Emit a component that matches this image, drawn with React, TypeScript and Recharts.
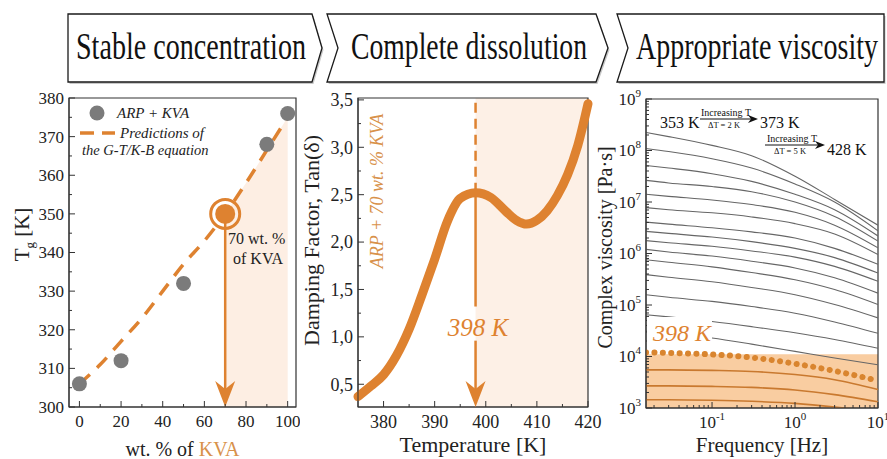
import React from "react";
import {
  ComposedChart,
  LineChart,
  Line,
  Area,
  Scatter,
  XAxis,
  YAxis,
  ReferenceArea,
  ReferenceLine,
  ReferenceDot,
  Label,
} from "recharts";

const ORANGE = "#de8230";
const ORANGE_TEXT = "#d8914a";
const INK = "#222";
const SERIF =
  "'Liberation Serif', Tinos, 'Times New Roman', 'Nimbus Roman', 'Nimbus Roman No9 L', FreeSerif, 'Noto Serif', 'DejaVu Serif', Georgia, serif";
const SERIF_STYLE = { fontFamily: SERIF };

// ---- panel 1: Tg vs KVA content
const kvaPct = [0, 20, 50, 90, 100];
const tgMeasured = [306, 312, 332, 368, 376];
const predPct = [0, 10, 20, 30, 40, 50, 60, 70, 80, 90, 100];
const tgPredicted = [306, 311, 317, 323, 330, 337, 343, 350, 358, 366.5, 375];
const chosenPct = 70;
const chosenTg = 350;
const pctTicks = [0, 10, 20, 30, 40, 50, 60, 70, 80, 90, 100];
const tgTicks = [300, 305, 310, 315, 320, 325, 330, 335, 340, 345, 350, 355, 360, 365, 370, 375, 380];

// ---- panel 2: damping factor vs temperature
const tempK = [375, 377.5, 380, 382.5, 385, 387.5, 390, 392.5, 395, 398, 401, 404, 406, 408, 410, 412, 414, 416, 418, 420];
const tanDelta = [0.37, 0.48, 0.6, 0.8, 1.08, 1.44, 1.82, 2.22, 2.46, 2.52, 2.47, 2.32, 2.23, 2.19, 2.23, 2.33, 2.49, 2.71, 3.02, 3.46];
const peakT = 398;
const peakTan = 2.52;
const tempTicks = [380, 385, 390, 395, 400, 405, 410, 415, 420];
const tanTicks = [0.5, 0.75, 1, 1.25, 1.5, 1.75, 2, 2.25, 2.5, 2.75, 3, 3.25, 3.5];

// ---- panel 3: complex viscosity vs frequency (log10 of Pa·s)
const freqHz = [0.016, 0.03, 0.1, 0.3, 1, 3, 10];
const grayTempsK = [353, 355, 357, 359, 361, 363, 365, 367, 369, 371, 373, 378, 383, 388, 393];
const grayLogEta = [
  [8.35, 8.27, 8.1, 7.9, 7.5, 7.05, 6.55],
  [8.04, 7.98, 7.84, 7.66, 7.35, 7.0, 6.44],
  [7.71, 7.66, 7.55, 7.4, 7.15, 6.85, 6.34],
  [7.42, 7.37, 7.3, 7.2, 7.0, 6.72, 6.24],
  [7.15, 7.11, 7.04, 6.95, 6.8, 6.55, 6.11],
  [6.89, 6.85, 6.79, 6.71, 6.58, 6.38, 5.98],
  [6.61, 6.57, 6.5, 6.42, 6.3, 6.1, 5.79],
  [6.43, 6.39, 6.32, 6.23, 6.1, 5.92, 5.62],
  [6.25, 6.21, 6.14, 6.05, 5.93, 5.75, 5.46],
  [6.08, 6.03, 5.95, 5.85, 5.72, 5.53, 5.23],
  [5.88, 5.83, 5.74, 5.63, 5.49, 5.3, 5.01],
  [5.59, 5.54, 5.45, 5.34, 5.2, 5.01, 4.75],
  [5.2, 5.15, 5.07, 4.97, 4.84, 4.67, 4.45],
  [4.81, 4.77, 4.68, 4.58, 4.46, 4.33, 4.16],
  [4.5, 4.46, 4.36, 4.24, 4.1, 3.97, 3.84],
];
const logEta398 = [4.08, 4.07, 4.04, 3.98, 3.86, 3.72, 3.53];
const orangeTempsK = [403, 408, 413];
const orangeLogEta = [
  [3.74, 3.74, 3.73, 3.71, 3.65, 3.55, 3.36],
  [3.43, 3.43, 3.42, 3.4, 3.35, 3.26, 3.12],
  [3.16, 3.16, 3.15, 3.13, 3.09, 3.02, 2.92],
];
const etaWindowTop = 11000;
const freqDecades = [0.01, 0.1, 1];
const etaDecades = [1e3, 1e4, 1e5, 1e6, 1e7, 1e8];

const banners = ["Stable concentration", "Complete dissolution", "Appropriate viscosity"];

// ---------- helpers
const logTicks = (decades: number[], lo: number, hi: number) => {
  const out: number[] = [];
  decades.forEach((d) => {
    for (let m = 1; m <= 9; m++) {
      const v = +(d * m).toPrecision(6);
      if (v >= lo && v <= hi) out.push(v);
    }
  });
  if (hi >= decades[decades.length - 1] * 10) out.push(decades[decades.length - 1] * 10);
  return out;
};
const isPow10 = (v: number) => Math.abs(Math.log10(v) - Math.round(Math.log10(v))) < 1e-6;
const isMult = (step: number) => (v: number) => Math.abs(v / step - Math.round(v / step)) < 1e-6;
const comma = (v: number) => v.toFixed(1).replace(".", ",");
const pow10 = (v: number) => (
  <>
    10<tspan dy={-8} fontSize={11}>{Math.round(Math.log10(v))}</tspan>
  </>
);

function makeTick(axis: "x" | "y", isMajor: (v: number) => boolean, fmt: (v: number) => React.ReactNode, fontSize: number) {
  return (props: any) => {
    const { x, y, payload } = props;
    const v = payload.value;
    const major = isMajor(v);
    const len = major ? 6 : 3;
    if (axis === "x") {
      return (
        <g>
          <line x1={x} y1={y} x2={x} y2={y - len} stroke="#333" strokeWidth={1} />
          {major && (
            <text x={x} y={y + fontSize + 3} textAnchor="middle" style={SERIF_STYLE} fontSize={fontSize} fill={INK}>
              {fmt(v)}
            </text>
          )}
        </g>
      );
    }
    return (
      <g>
        <line x1={x} y1={y} x2={x + len} y2={y} stroke="#333" strokeWidth={1} />
        {major && (
          <text x={x - 5} y={y} dy="0.35em" textAnchor="end" style={SERIF_STYLE} fontSize={fontSize} fill={INK}>
            {fmt(v)}
          </text>
        )}
      </g>
    );
  };
}

const xTitle = (content: React.ReactNode, dy: number, size: number) => (props: any) => {
  const vb = props.viewBox;
  return (
    <text x={vb.x + vb.width / 2} y={vb.y + dy} textAnchor="middle" style={SERIF_STYLE} fontSize={size} fill={INK}>
      {content}
    </text>
  );
};
const yTitle = (content: React.ReactNode, dx: number, size: number, dyc = 0) => (props: any) => {
  const vb = props.viewBox;
  const cx = vb.x + dx;
  const cy = vb.y + vb.height / 2 + dyc;
  return (
    <text x={cx} y={cy} transform={`rotate(-90 ${cx} ${cy})`} textAnchor="middle" dy="0.35em" style={SERIF_STYLE} fontSize={size} fill={INK}>
      {content}
    </text>
  );
};

const arrowHead = (p: any) => {
  const { cx, cy } = p;
  return <path d={`M${cx},${cy} L${cx - 10},${cy - 26} L${cx},${cy - 18} L${cx + 10},${cy - 26} Z`} fill={ORANGE} />;
};

// ---------- panel 1
const p1Rows = predPct.map((x, i) => ({ x, pred: tgPredicted[i], shade: x >= chosenPct ? tgPredicted[i] : null }));
const p1Points = kvaPct.map((x, i) => ({ x, y: tgMeasured[i] }));

function TgPanel() {
  return (
    <ComposedChart width={300} height={374} data={p1Rows} margin={{ top: 13, right: 4, bottom: 12, left: 19 }}>
      <XAxis type="number" dataKey="x" domain={[-5, 104]} ticks={pctTicks} interval={0} tickSize={0} tickMargin={0} tickLine={false}
        axisLine={{ stroke: "#333" }} height={40} tick={makeTick("x", isMult(20), (v) => v, 17)}>
        <Label content={xTitle(<>wt. % of <tspan fill={ORANGE_TEXT}>KVA</tspan></>, 49, 20)} />
      </XAxis>
      <YAxis type="number" domain={[300, 380]} ticks={tgTicks} interval={0} tickSize={0} tickMargin={0} tickLine={false}
        axisLine={{ stroke: "#333" }} width={50} tick={makeTick("y", isMult(10), (v) => v, 17)}>
        <Label content={yTitle(<>T<tspan dy={5} fontSize={13}>g</tspan><tspan dy={-5}> [K]</tspan></>, 3, 21, -18)} />
      </YAxis>
      <Area dataKey="shade" type="linear" stroke="none" fill="#fdeee3" fillOpacity={1} baseValue={300} isAnimationActive={false} />
      <ReferenceArea x1={-5} x2={104} y1={300} y2={380} fill="none" stroke="#333" strokeWidth={1.2} />
      <Line dataKey="pred" type="monotone" stroke={ORANGE} strokeWidth={3.5} strokeDasharray="14 10" dot={false} isAnimationActive={false} />
      <ReferenceLine segment={[{ x: chosenPct, y: chosenTg }, { x: chosenPct, y: 304 }]} stroke={ORANGE} strokeWidth={2.5} />
      <ReferenceDot x={chosenPct} y={300} ifOverflow="visible" shape={arrowHead} />
      <Scatter data={p1Points} dataKey="y" isAnimationActive={false}
        shape={(p: any) => <circle cx={p.cx} cy={p.cy} r={7.5} fill="#7b7b7b" />} />
      <Scatter data={[{ x: chosenPct, y: chosenTg }]} dataKey="y" isAnimationActive={false}
        shape={(p: any) => (
          <g>
            <circle cx={p.cx} cy={p.cy} r={14.5} fill="none" stroke={ORANGE} strokeWidth={3} />
            <circle cx={p.cx} cy={p.cy} r={10} fill={ORANGE} />
          </g>
        )} />
    </ComposedChart>
  );
}

// ---------- panel 2
const p2Rows = tempK.map((t, i) => ({ t, tan: tanDelta[i] }));

function TanPanel() {
  return (
    <LineChart width={315} height={374} data={p2Rows} margin={{ top: 13, right: 17, bottom: 12, left: 13 }}>
      <XAxis type="number" dataKey="t" domain={[375, 420]} ticks={tempTicks} interval={0} tickSize={0} tickMargin={0} tickLine={false}
        axisLine={{ stroke: "#333" }} height={40} tick={makeTick("x", isMult(10), (v) => v, 18)}>
        <Label content={xTitle("Temperature [K]", 45, 22)} />
      </XAxis>
      <YAxis type="number" domain={[0.26, 3.52]} allowDataOverflow ticks={tanTicks} interval={0} tickSize={0} tickMargin={0} tickLine={false}
        axisLine={{ stroke: "#333" }} width={55} tick={makeTick("y", isMult(0.5), comma, 18)}>
        <Label content={yTitle("Damping Factor, Tan(δ)", 8, 22, -12)} />
      </YAxis>
      <ReferenceArea x1={peakT} x2={420} y1={0.26} y2={3.52} fill="#fdf0e6" fillOpacity={1} stroke="none" />
      <ReferenceArea x1={375} x2={420} y1={0.26} y2={3.52} fill="none" stroke="#333" strokeWidth={1.2} />
      <ReferenceLine segment={[{ x: peakT, y: peakTan }, { x: peakT, y: 3.52 }]} stroke={ORANGE} strokeWidth={2.5} strokeDasharray="10 6" />
      <ReferenceLine segment={[{ x: peakT, y: peakTan }, { x: peakT, y: 1.32 }]} stroke={ORANGE} strokeWidth={2.5} />
      <ReferenceLine segment={[{ x: peakT, y: 0.96 }, { x: peakT, y: 0.4 }]} stroke={ORANGE} strokeWidth={2.5} />
      <ReferenceDot x={peakT} y={0.26} ifOverflow="visible" shape={arrowHead} />
      <Line dataKey="tan" type="monotone" stroke={ORANGE} strokeWidth={9} strokeLinecap="round" dot={false} isAnimationActive={false} />
    </LineChart>
  );
}

// ---------- panel 3
const p3Rows = freqHz.map((f, i) => {
  const row: Record<string, number> = { f, d398: Math.pow(10, logEta398[i]) };
  grayLogEta.forEach((c, k) => (row[`g${k}`] = Math.pow(10, c[i])));
  orangeLogEta.forEach((c, k) => (row[`o${k}`] = Math.pow(10, c[i])));
  return row;
});
const freqTicks = logTicks(freqDecades, 0.016, 10);
const etaTicks = logTicks(etaDecades, 1e3, 1e9);

function ViscosityPanel() {
  return (
    <LineChart width={302} height={374} data={p3Rows} margin={{ top: 14, right: 9, bottom: 11, left: 11 }}>
      <XAxis type="number" dataKey="f" scale="log" domain={[0.016, 10]} allowDataOverflow ticks={freqTicks} interval={0} tickSize={0}
        tickMargin={0} tickLine={false} axisLine={{ stroke: "#333" }} height={40} tick={makeTick("x", isPow10, pow10, 17)}>
        <Label content={xTitle("Frequency [Hz]", 44, 21)} />
      </XAxis>
      <YAxis type="number" scale="log" domain={[1e3, 1e9]} allowDataOverflow ticks={etaTicks} interval={0} tickSize={0} tickMargin={0}
        tickLine={false} axisLine={{ stroke: "#333" }} width={50} tick={makeTick("y", isPow10, pow10, 17)}>
        <Label content={yTitle("Complex viscosity [Pa·s]", 9, 20, -6)} />
      </YAxis>
      <ReferenceArea x1={0.016} x2={10} y1={1e3} y2={etaWindowTop} fill="#f9cda1" fillOpacity={1} stroke="none" />
      <ReferenceArea x1={0.016} x2={10} y1={1e3} y2={1e9} fill="none" stroke="#333" strokeWidth={1.2} />
      {grayTempsK.map((t, k) => (
        <Line key={t} dataKey={`g${k}`} name={`${t} K`} type="monotone" stroke="#666" strokeWidth={1.1} dot={false} isAnimationActive={false} />
      ))}
      {orangeTempsK.map((t, k) => (
        <Line key={t} dataKey={`o${k}`} name={`${t} K`} type="monotone" stroke="#c9792f" strokeWidth={1.6} dot={false} isAnimationActive={false} />
      ))}
      <Line dataKey="d398" name="398 K" type="monotone" stroke="#d9852f" strokeWidth={6} strokeLinecap="round" strokeDasharray="0.1 8.3"
        dot={false} isAnimationActive={false} />
    </LineChart>
  );
}

// ---------- overlay: banners, legend, annotations
function Banner({ pts, text, tx, tw }: { pts: string; text: string; tx: number; tw: number }) {
  return (
    <g>
      <polygon points={pts} fill="#c8c8c8" transform="translate(1.5,2)" />
      <polygon points={pts} fill="#fff" stroke="#1a1a1a" strokeWidth={1.3} />
      <text x={tx} y={59} style={SERIF_STYLE} fontSize={38} textLength={tw} lengthAdjust="spacingAndGlyphs" fill="#111">
        {text}
      </text>
    </g>
  );
}

function ArrowLabel({ x1, x2, y, top, bottom }: { x1: number; x2: number; y: number; top: string; bottom: string }) {
  const mid = (x1 + x2) / 2;
  return (
    <g style={SERIF_STYLE} fill="#111">
      <line x1={x1} y1={y} x2={x2 - 6} y2={y} stroke="#111" strokeWidth={1} />
      <path d={`M${x2},${y} L${x2 - 10},${y - 4} L${x2 - 7},${y} L${x2 - 10},${y + 4} Z`} fill="#111" />
      <text x={mid - 3} y={y - 3} textAnchor="middle" fontSize={10}>{top}</text>
      <text x={mid - 5} y={y + 9} textAnchor="middle" fontSize={8.5}>{bottom}</text>
    </g>
  );
}

function Overlay() {
  return (
    <svg width={887} height={459} style={{ position: "absolute", left: 0, top: 0, pointerEvents: "none", fontFamily: SERIF }}>
      <Banner pts="68,14 312,14 322,48 312,82 68,82" text={banners[0]} tx={76} tw={230} />
      <Banner pts="327,14 596,14 608,48 596,82 327,82 338,48" text={banners[1]} tx={351} tw={236} />
      <Banner pts="617,14 884,14 884,82 617,82 628,48" text={banners[2]} tx={636} tw={242} />

      {/* panel 1 legend */}
      <circle cx={97} cy={113} r={7.5} fill="#7b7b7b" />
      <g style={{ ...SERIF_STYLE, fontStyle: "italic" }} fontSize={15} fill={INK}>
        <text x={117} y={118}>ARP + KVA</text>
        <text x={120} y={138}>Predictions of</text>
        <text x={82} y={155} fontSize={14.5}>the G-T/K-B equation</text>
      </g>
      <line x1={80} y1={133} x2={94} y2={133} stroke={ORANGE} strokeWidth={3.5} />
      <line x1={102} y1={133} x2={115} y2={133} stroke={ORANGE} strokeWidth={3.5} />
      <g style={SERIF_STYLE} fontSize={16} fill={INK}>
        <text x={228} y={244}>70 wt. %</text>
        <text x={233} y={264}>of KVA</text>
      </g>

      {/* panel 2 annotations */}
      <text x={377} y={191} transform="rotate(-90 377 191)" textAnchor="middle" dy="0.35em" style={{ ...SERIF_STYLE, fontStyle: "italic" }}
        fontSize={18} fill={ORANGE_TEXT}>ARP + 70 wt. % KVA</text>
      <text x={478} y={336} textAnchor="middle" style={{ ...SERIF_STYLE, fontStyle: "italic" }} fontSize={25} fill={ORANGE}>398 K</text>

      {/* panel 3 annotations */}
      <rect x={647} y={317} width={65} height={31} fill="#fff" />
      <text x={653} y={341} style={{ ...SERIF_STYLE, fontStyle: "italic" }} fontSize={24} fill={ORANGE}>398 K</text>
      <g style={SERIF_STYLE} fontSize={16} fill="#111">
        <text x={660} y={128}>353 K</text>
        <text x={760} y={128}>373 K</text>
        <text x={827} y={155}>428 K</text>
      </g>
      <ArrowLabel x1={700} x2={758} y={119} top="Increasing T" bottom="ΔT = 2 K" />
      <ArrowLabel x1={765} x2={825} y={145} top="Increasing T" bottom="ΔT = 5 K" />
    </svg>
  );
}

export default function App() {
  return (
    <div style={{ position: "absolute", left: 0, top: 0, width: 887, height: 459, background: "#fff", overflow: "hidden", fontFamily: SERIF }}>
      <div style={{ position: "absolute", left: 0, top: 85 }}>
        <TgPanel />
      </div>
      <div style={{ position: "absolute", left: 290, top: 85 }}>
        <TanPanel />
      </div>
      <div style={{ position: "absolute", left: 585, top: 85 }}>
        <ViscosityPanel />
      </div>
      <Overlay />
    </div>
  );
}
